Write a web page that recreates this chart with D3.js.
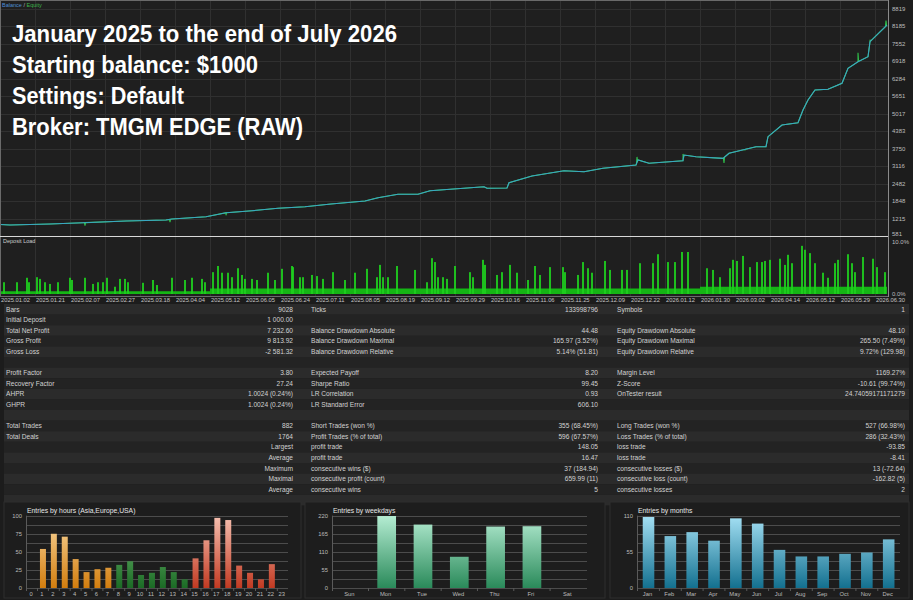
<!DOCTYPE html>
<html>
<head>
<meta charset="utf-8">
<script src="https://cdn.jsdelivr.net/npm/d3@7/dist/d3.min.js"></script>
<style>
  html, body { margin: 0; padding: 0; background: #1c1c1c; }
  svg { display: block; }
  text { font-family: "Liberation Sans", Arial, sans-serif; }
</style>
</head>
<body>
<svg id="report" width="913" height="600"></svg>
<script>
'use strict'

// ---- data ----
const titleLines = [
  'January 2025 to the end of July 2026',
  'Starting balance: $1000',
  'Settings: Default',
  'Broker: TMGM EDGE (RAW)'
]
const titleWidths = [385, 246, 172, 291]

const balanceTicks = [581, 1215, 1848, 2482, 3116, 3750, 4383, 5017, 5651, 6284, 6918, 7552, 8185, 8819]

const dateLabels = ['2025.01.02', '2025.01.21', '2025.02.07', '2025.02.27', '2025.03.18', '2025.04.04',
  '2025.05.12', '2025.06.05', '2025.06.24', '2025.07.11', '2025.08.05', '2025.08.19', '2025.09.12',
  '2025.09.29', '2025.10.16', '2025.11.06', '2025.11.25', '2025.12.09', '2025.12.22', '2026.01.12',
  '2026.01.30', '2026.03.02', '2026.04.14', '2026.05.12', '2026.05.29', '2026.06.30']

// deal position along the test / balance value
const balanceIdx = [0, 10, 50, 83, 126, 166, 172, 206, 226, 252, 278, 305, 331, 365, 378, 398, 418,
  430, 484, 487, 507, 509, 532, 564, 584, 603, 636, 638, 649, 683, 684, 696, 723, 729, 756, 766, 768,
  782, 798, 803, 808, 815, 828, 842, 848, 858, 868, 870, 880, 887]
const balance = [1000, 980, 1016, 1064, 1125, 1162, 1198, 1281, 1426, 1499, 1586, 1644, 1742, 1851, 1971, 2094, 2094,
  2225, 2370, 2312, 2323, 2515, 2758, 2950, 2914, 3038, 3158, 3339, 3219, 3314, 3520, 3459, 3400, 3582, 3822, 3822, 4185,
  4609, 4693, 5153, 5516, 5879, 5904, 6122, 6666, 6906, 7088, 7632, 7990, 8232]
// equity excursions away from balance
const equityIdx = [85, 170, 226, 637, 683, 724, 745, 805, 858, 870, 886]
const equityDev = [960, 1080, 1330, 3450, 3560, 3230, 3700, 5300, 7230, 7700, 8400]

// deposit load (%)
const loadBaseIdx = [0, 210, 700, 887]
const loadBase = [0.5, 1.0, 1.3, 1.3]
const loadIdx = [4, 17, 27, 29, 37, 40, 45, 50, 58, 70, 72, 85, 93, 98, 103, 107, 115, 120, 125, 128, 143, 153, 157,
  172, 185, 192, 202, 205, 213, 218, 222, 228, 232, 238, 242, 245, 252, 257, 268, 275, 282, 292, 293, 300, 303, 312,
  317, 323, 333, 345, 355, 367, 377, 380, 383, 388, 397, 415, 427, 432, 435, 438, 443, 447, 455,
  470, 473, 483, 485, 497, 502, 510, 517, 528, 535, 540, 550, 563, 565, 578, 583, 588, 592, 605, 610, 622, 627,
  640, 653, 658, 668, 675, 682, 688, 707, 713, 720, 730, 733, 737, 743, 750, 757, 762, 765, 770, 780, 785, 788,
  792, 802, 805, 810, 815, 823, 828, 835, 838, 848, 852, 855, 863, 873, 877, 885]
const loadPct = [2.1, 2.1, 2.9, 2.1, 3.0, 2.7, 2.1, 1.8, 2.1, 2.9, 2.5, 2.9, 1.8, 2.1, 2.1, 2.9, 1.3, 2.7, 2.7, 2.1, 2.0, 2.5, 1.6,
  2.9, 2.5, 2.9, 2.7, 2.1, 3.9, 5.0, 3.8, 3.8, 3.0, 4.6, 3.4, 2.7, 2.7, 2.5, 3.8, 2.5, 4.5, 5.0, 4.8, 3.0, 3.0, 3.4,
  3.2, 2.7, 3.9, 2.5, 3.8, 4.5, 3.0, 5.2, 3.0, 3.0, 5.0, 4.3, 2.1, 6.4, 5.7, 3.0, 3.0, 2.7, 5.0,
  3.9, 3.0, 6.1, 5.2, 3.4, 3.9, 5.2, 3.8, 2.5, 5.0, 3.4, 4.8, 4.8, 3.9, 3.4, 5.7, 4.6, 3.8, 5.9, 4.3, 4.3, 4.3,
  5.5, 5.5, 7.1, 5.7, 5.7, 7.5, 7.5, 4.6, 4.3, 3.0, 4.6, 6.1, 5.9, 6.8, 4.8, 5.7, 5.7, 5.9, 6.1, 6.3, 5.2, 7.0,
  5.5, 8.6, 7.9, 7.3, 5.5, 3.8, 2.9, 5.5, 6.1, 7.1, 5.5, 3.9, 6.6, 6.3, 4.8, 3.9]

const statRows = [
  ['Bars', '9028', 'Ticks', '133998796', 'Symbols', '1'],
  ['Initial Deposit', '1 000.00', '', '', '', ''],
  ['Total Net Profit', '7 232.60', 'Balance Drawdown Absolute', '44.48', 'Equity Drawdown Absolute', '48.10'],
  ['Gross Profit', '9 813.92', 'Balance Drawdown Maximal', '165.97 (3.52%)', 'Equity Drawdown Maximal', '265.50 (7.49%)'],
  ['Gross Loss', '-2 581.32', 'Balance Drawdown Relative', '5.14% (51.81)', 'Equity Drawdown Relative', '9.72% (129.98)'],
  ['', '', '', '', '', ''],
  ['Profit Factor', '3.80', 'Expected Payoff', '8.20', 'Margin Level', '1169.27%'],
  ['Recovery Factor', '27.24', 'Sharpe Ratio', '99.45', 'Z-Score', '-10.61 (99.74%)'],
  ['AHPR', '1.0024 (0.24%)', 'LR Correlation', '0.93', 'OnTester result', '24.74059171171279'],
  ['GHPR', '1.0024 (0.24%)', 'LR Standard Error', '606.10', '', ''],
  ['', '', '', '', '', ''],
  ['Total Trades', '882', 'Short Trades (won %)', '355 (68.45%)', 'Long Trades (won %)', '527 (66.98%)'],
  ['Total Deals', '1764', 'Profit Trades (% of total)', '596 (67.57%)', 'Loss Trades (% of total)', '286 (32.43%)'],
  ['', 'Largest', 'profit trade', '148.05', 'loss trade', '-93.85'],
  ['', 'Average', 'profit trade', '16.47', 'loss trade', '-8.41'],
  ['', 'Maximum', 'consecutive wins ($)', '37 (184.94)', 'consecutive losses ($)', '13 (-72.64)'],
  ['', 'Maximal', 'consecutive profit (count)', '659.99 (11)', 'consecutive loss (count)', '-162.82 (5)'],
  ['', 'Average', 'consecutive wins', '5', 'consecutive losses', '2'],
  ['', '', '', '', '', '']
]

const hourLabels = d3.range(24).map(String)
const hourEntries = [0, 54, 75, 71, 40, 22, 26, 28, 32, 37, 18, 21, 29, 22, 12, 41, 66, 97, 94, 31, 21, 12, 33, 0]
const hourSession = ['asia', 'asia', 'asia', 'asia', 'asia', 'asia', 'asia', 'asia',
  'europe', 'europe', 'europe', 'europe', 'europe', 'europe', 'europe',
  'usa', 'usa', 'usa', 'usa', 'usa', 'usa', 'usa', 'usa', 'usa']
const dayLabels = ['Sun', 'Mon', 'Tue', 'Wed', 'Thu', 'Fri', 'Sat']
const dayEntries = [0, 219, 193, 95, 187, 188, 0]
const monthLabels = ['Jan', 'Feb', 'Mar', 'Apr', 'May', 'Jun', 'Jul', 'Aug', 'Sep', 'Oct', 'Nov', 'Dec']
const monthEntries = [108, 79, 85, 72, 106, 98, 58, 48, 48, 52, 54, 74]

// ---- drawing ----
const svg = d3.select('#report')
const plotRight = 888
const plotBottom = 236

svg.append('rect').attr('width', 913).attr('height', 600).attr('fill', '#1c1c1c')
svg.append('rect').attr('x', 0).attr('y', 0).attr('width', plotRight).attr('height', 296).attr('fill', '#1f1f1f')

const defs = svg.append('defs')
defs.append('clipPath').attr('id', 'mainClip')
  .append('rect').attr('x', 0).attr('y', 0).attr('width', plotRight).attr('height', plotBottom)
defs.append('clipPath').attr('id', 'axisClip')
  .append('rect').attr('x', plotRight).attr('y', 0).attr('width', 25).attr('height', plotBottom + 0.5)

const xIdx = d3.scaleLinear().domain([0, 887]).range([0, 887])
const xDate = d3.scalePoint().domain(dateLabels).range([0, 875])
const yBal = d3.scaleLinear().domain([581, 8819]).range([236, 9])
const yLoad = d3.scaleLinear().domain([0, 10]).range([294, 238])

// grid
const grid = svg.append('g').attr('stroke', '#303030').attr('stroke-width', 1)
grid.selectAll('.vg').data(dateLabels).enter().append('line')
  .attr('x1', (d) => Math.round(xDate(d)) + 0.5).attr('x2', (d) => Math.round(xDate(d)) + 0.5)
  .attr('y1', 0).attr('y2', 296)
grid.selectAll('.hg').data(balanceTicks).enter().append('line')
  .attr('x1', 0).attr('x2', plotRight)
  .attr('y1', (d) => Math.round(yBal(d)) + 0.5).attr('y2', (d) => Math.round(yBal(d)) + 0.5)

// right axis
const yAxisG = svg.append('g').attr('clip-path', 'url(#axisClip)')
yAxisG.selectAll('text').data(balanceTicks).enter().append('text')
  .attr('x', plotRight + 4).attr('y', (d) => d === 581 ? yBal(d) : yBal(d) + 2)
  .attr('font-size', 6).attr('fill', '#bcbcbc').text((d) => d)

// balance / equity
const balPts = balanceIdx.map((t, i) => ({ t, v: balance[i] }))
const balAt = d3.scaleLinear().domain(balanceIdx).range(balance)
const eqPts = balPts.slice()
equityIdx.forEach((t, i) => {
  eqPts.push({ t: t - 0.6, v: balAt(t - 0.6) }, { t, v: equityDev[i] }, { t: t + 0.6, v: balAt(t + 0.6) })
})
eqPts.sort((a, b) => a.t - b.t)
const line = d3.line().x((d) => xIdx(d.t)).y((d) => yBal(d.v))
const lines = svg.append('g').attr('clip-path', 'url(#mainClip)').attr('fill', 'none')
lines.append('path').attr('d', line(eqPts)).attr('stroke', '#2fbf4a').attr('stroke-width', 1.1)
lines.append('path').attr('d', line(balPts)).attr('stroke', '#3aa6c4').attr('stroke-width', 1.1)

// legend + title
const legend = svg.append('text').attr('x', 2).attr('y', 7).attr('font-size', 5.5)
legend.append('tspan').attr('fill', '#4d8fd6').text('Balance')
legend.append('tspan').attr('fill', '#bbbbbb').text(' / ')
legend.append('tspan').attr('fill', '#3cb44a').text('Equity')

svg.append('g').selectAll('text').data(titleLines).enter().append('text')
  .attr('x', 12).attr('y', (d, i) => 42 + i * 31)
  .attr('textLength', (d, i) => titleWidths[i]).attr('lengthAdjust', 'spacingAndGlyphs')
  .attr('font-family', 'Lato, "Open Sans", sans-serif').attr('font-weight', 700)
  .attr('font-size', 23).attr('fill', '#ffffff').text((d) => d)

// deposit load panel
const loadArea = d3.area().curve(d3.curveStepAfter)
  .x((d, i) => xIdx(loadBaseIdx[i])).y0(yLoad(0)).y1((d) => yLoad(d))
svg.append('path').attr('d', loadArea(loadBase)).attr('fill', '#15b515')
svg.append('g').selectAll('rect').data(loadIdx).enter().append('rect')
  .attr('x', (d) => xIdx(d) - 0.9).attr('width', 1.8)
  .attr('y', (d, i) => yLoad(loadPct[i])).attr('height', (d, i) => yLoad(0) - yLoad(loadPct[i]))
  .attr('fill', '#1fd01f')

svg.append('text').attr('x', 3).attr('y', 243).attr('font-size', 5.5).attr('fill', '#cccccc').text('Deposit Load')
svg.append('text').attr('x', plotRight + 4).attr('y', 243.5).attr('font-size', 6).attr('fill', '#bcbcbc').text('10.0%')
svg.append('text').attr('x', plotRight + 4).attr('y', 296).attr('font-size', 6).attr('fill', '#bcbcbc').text('0.0%')

// borders
const borders = svg.append('g').attr('stroke-width', 1)
borders.append('line').attr('x1', 0).attr('x2', plotRight).attr('y1', 0.5).attr('y2', 0.5).attr('stroke', '#6a6a6a')
borders.append('line').attr('x1', 0.5).attr('x2', 0.5).attr('y1', 0).attr('y2', 296).attr('stroke', '#6a6a6a')
borders.append('line').attr('x1', plotRight + 0.5).attr('x2', plotRight + 0.5).attr('y1', 0).attr('y2', 297).attr('stroke', '#8a8a8a')
borders.append('line').attr('x1', 0).attr('x2', plotRight).attr('y1', plotBottom + 0.5).attr('y2', plotBottom + 0.5).attr('stroke', '#d8d8d8')
borders.append('line').attr('x1', 0).attr('x2', plotRight).attr('y1', 296.5).attr('y2', 296.5).attr('stroke', '#6a6a6a')

// date axis
svg.append('g').selectAll('text').data(dateLabels).enter().append('text')
  .attr('x', (d) => xDate(d) + 1).attr('y', 302)
  .attr('font-size', 5.8).attr('fill', '#c4c4c4').text((d) => d)

// stats table
const rowY = d3.scaleBand().domain(d3.range(statRows.length)).range([304, 304 + statRows.length * 10.6])
const table = svg.append('g')
table.selectAll('rect').data(statRows).enter().append('rect')
  .attr('x', 4).attr('width', 905)
  .attr('y', (d, i) => rowY(i)).attr('height', rowY.bandwidth())
  .attr('fill', (d, i) => i % 2 ? '#232323' : '#2b2b2b')
const cols = [
  { x: 6, anchor: 'start' }, { x: 293, anchor: 'end' },
  { x: 311, anchor: 'start' }, { x: 598, anchor: 'end' },
  { x: 617, anchor: 'start' }, { x: 905, anchor: 'end' }
]
statRows.forEach((row, i) => {
  row.forEach((cell, c) => {
    if (!cell) return
    table.append('text')
      .attr('x', cols[c].x).attr('y', rowY(i) + rowY.bandwidth() / 2 + 2.3)
      .attr('text-anchor', cols[c].anchor)
      .attr('font-size', 6.6).attr('fill', '#d2d2d2').text(cell)
  })
})

// entry histograms
const grads = {
  asia: ['#fad9a0', '#d27d0e'],
  europe: ['#80c880', '#1b6b25'],
  usa: ['#f6c0b0', '#c23a22'],
  day: ['#b4ecd2', '#2a8a5a'],
  month: ['#a4e0f4', '#13708f']
}
Object.keys(grads).forEach((k) => {
  const g = defs.append('linearGradient').attr('id', 'g-' + k)
    .attr('gradientUnits', 'userSpaceOnUse').attr('x1', 0).attr('x2', 0).attr('y1', 516).attr('y2', 588)
  g.append('stop').attr('offset', 0).attr('stop-color', grads[k][0])
  g.append('stop').attr('offset', 1).attr('stop-color', grads[k][1])
})

const panels = [
  { x: 4, w: 297, title: 'Entries by hours (Asia,Europe,USA)', labels: hourLabels, values: hourEntries,
    max: 100, labelStep: 25, gridStep: 12.5, range: [26.6, 288.2], gridX: [26, 288], pad: 0.45,
    fill: (d, i) => 'url(#g-' + hourSession[i] + ')' },
  { x: 305, w: 300, title: 'Entries by weekdays', labels: dayLabels, values: dayEntries,
    max: 220, labelStep: 55, gridStep: 27.5, range: [332.2, 586.4], gridX: [332, 587], pad: 0.485,
    fill: () => 'url(#g-day)' },
  { x: 610, w: 299, title: 'Entries by months', labels: monthLabels, values: monthEntries,
    max: 110, labelStep: 55, gridStep: 13.75, range: [637.6, 899.6], gridX: [637, 900], pad: 0.47,
    fill: () => 'url(#g-month)' }
]

panels.forEach((p) => {
  const g = svg.append('g')
  g.append('rect').attr('x', p.x).attr('y', 502).attr('width', p.w).attr('height', 96)
    .attr('fill', '#1d1d1d').attr('stroke', '#2e2e2e')
  const x = d3.scaleBand().domain(p.labels).range(p.range).paddingInner(p.pad).paddingOuter(p.pad / 2)
  const y = d3.scaleLinear().domain([0, p.max]).range([588, 515.7])

  g.selectAll('.grid').data(d3.range(0, p.max + 0.01, p.gridStep)).enter().append('line')
    .attr('x1', p.gridX[0]).attr('x2', p.gridX[1])
    .attr('y1', (d) => Math.round(y(d)) + 0.5).attr('y2', (d) => Math.round(y(d)) + 0.5)
    .attr('stroke', '#4c4c4c')
  g.append('line').attr('x1', p.gridX[0] + 0.5).attr('x2', p.gridX[0] + 0.5)
    .attr('y1', y(p.max)).attr('y2', 591).attr('stroke', '#5a5a5a')
  g.selectAll('.tick').data(p.labels.slice(1)).enter().append('line')
    .attr('x1', (d) => x(d) - x.step() * p.pad / 2).attr('x2', (d) => x(d) - x.step() * p.pad / 2)
    .attr('y1', 588).attr('y2', 591).attr('stroke', '#5a5a5a')

  g.selectAll('.bar').data(p.values).enter().append('rect')
    .attr('x', (d, i) => x(p.labels[i])).attr('width', x.bandwidth())
    .attr('y', (d) => y(d)).attr('height', (d) => y(0) - y(d))
    .attr('fill', p.fill)

  g.selectAll('.yl').data(d3.range(0, p.max + 0.01, p.labelStep)).enter().append('text')
    .attr('x', p.gridX[0] - 4).attr('y', (d) => y(d) + 2).attr('text-anchor', 'end')
    .attr('font-size', 5.8).attr('fill', '#bbbbbb').text((d) => d)
  g.selectAll('.xl').data(p.labels).enter().append('text')
    .attr('x', (d) => x(d) + x.bandwidth() / 2 - 1).attr('y', 596).attr('text-anchor', 'middle')
    .attr('font-size', 5.8).attr('fill', '#bbbbbb').text((d) => d)
  g.append('text').attr('x', p.gridX[0] + 1).attr('y', 513)
    .attr('font-size', 6.8).attr('fill', '#e6e6e6').text(p.title)
})
</script>
</body>
</html>
